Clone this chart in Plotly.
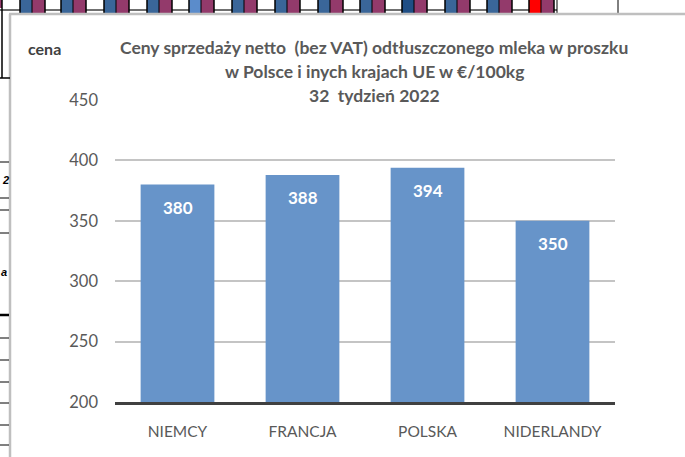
import plotly.graph_objects as go

# ---- data ----
categories = ["NIEMCY", "FRANCJA", "POLSKA", "NIDERLANDY"]
prices = [380, 388, 394, 350]
y_ticks = [200, 250, 300, 350, 400, 450]
title_lines = [
    "Ceny sprzedaży netto  (bez VAT) odtłuszczonego mleka w proszku",
    "w Polsce i inych krajach UE w €/100kg",
    "32  tydzień 2022",
]
y_label = "cena"

# ---- layout geometry (pixels) ----
W, H = 685, 457
L, R, T, B = 115, 615, 100, 402
FONT = "Lato"
GRAY = "#595959"


def px(x):
    return (x - L) / (R - L)


def py(y):
    return (B - y) / (B - T)


fig = go.Figure()
fig.add_trace(go.Bar(
    x=categories, y=prices,
    marker=dict(color="#6794C9", line=dict(width=0)),
    width=0.59, hoverinfo="x+y",
))

annotations = []
for c, v in zip(categories, prices):
    annotations.append(dict(
        x=c, y=v, xref="x", yref="y", text=f"<b>{v}</b>", showarrow=False,
        yanchor="middle", yshift=-23,
        font=dict(family=FONT, size=17, color="white"),
    ))

title_y = [47, 71, 95]
for t, yy in zip(title_lines, title_y):
    annotations.append(dict(
        x=px(374), y=py(yy), xref="paper", yref="paper", text=f"<b>{t}</b>",
        showarrow=False, xanchor="center", yanchor="middle",
        font=dict(family=FONT, size=17.5, color=GRAY),
    ))
annotations.append(dict(
    x=px(26), y=py(49), xref="paper", yref="paper", text=f"<b>{y_label}</b>",
    showarrow=False, xanchor="left", yanchor="middle",
    font=dict(family=FONT, size=16, color="#404040"),
))
# spreadsheet fragments on the left
for txt, xx, yy in [("2", 0, 180), ("a", -1, 272)]:
    annotations.append(dict(
        x=px(xx), y=py(yy), xref="paper", yref="paper", text=f"<b><i>{txt}</i></b>",
        showarrow=False, xanchor="left", yanchor="middle",
        font=dict(family="Liberation Sans", size=11, color="#000000"),
    ))

shapes = []


def rect(x0, y0, x1, y1, color, line_w=0, line_c=None):
    shapes.append(dict(
        type="rect", xref="paper", yref="paper",
        x0=px(x0), x1=px(x1), y0=py(y1), y1=py(y0),
        fillcolor=color, line=dict(width=line_w, color=line_c or color),
        layer="above",
    ))


def line(x0, y0, x1, y1, color, w=1):
    shapes.append(dict(
        type="line", xref="paper", yref="paper",
        x0=px(x0), x1=px(x1), y0=py(y0), y1=py(y1),
        line=dict(color=color, width=w), layer="above",
    ))


# top strip of spreadsheet cells
line(0, 10, 557, 10, "#404040", 1.5)
pair_starts = [20, 61, 104, 147, 189, 232, 275, 318, 360, 402, 445, 487, 529]
for i, s in enumerate(pair_starts):
    first = "#FF0000" if i == len(pair_starts) - 1 else ("#5B8CCB" if i == 4 else ("#1F4E85" if i == 9 else "#3A6699"))
    rect(s, 0, s + 12, 14, first)
    rect(s + 12, 0, s + 25, 14, "#933A6B")
    line(s, 0, s, 14, "#000000", 1.5)
    line(s + 12, 0, s + 12, 14, "#000000", 1)
    line(s + 25, 0, s + 25, 14, "#000000", 1.5)
line(557, 0, 557, 14, "#000000", 1)
line(618, 0, 618, 14, "#000000", 1)
rect(0, 0, 2, 8, "#933A6B")
# chart border
line(9, 14, 685, 14, "#BFBFBF", 2.5)
line(10, 14, 10, 457, "#BFBFBF", 2.5)
# left fragments
line(2, 0, 2, 78, "#000000", 1.5)
line(0, 78, 10, 78, "#000000", 1.5)
for yy in [162, 198, 210, 233, 338, 360, 382, 403, 425, 445]:
    line(0, yy, 9, yy, "#000000", 1)
line(0, 315, 9, 315, "#000000", 2.5)

fig.update_layout(
    width=W, height=H,
    margin=dict(l=L, r=W - R, t=T, b=H - B, pad=0),
    paper_bgcolor="white", plot_bgcolor="white",
    showlegend=False,
    bargap=0.41,
    annotations=annotations,
    shapes=shapes,
    font=dict(family=FONT, color=GRAY),
)
fig.update_xaxes(
    type="category", showgrid=False, zeroline=False,
    showline=True, linecolor="#404040", linewidth=2.5,
    ticks="", ticklabelstandoff=14,
    tickfont=dict(family=FONT, size=15.5, color=GRAY),
)
fig.update_yaxes(
    range=[200, 450], tickvals=y_ticks, showline=False, zeroline=False,
    showgrid=True, gridcolor="#C4C4C4", gridwidth=1.5,
    ticks="", ticklabelstandoff=16,
    tickfont=dict(family=FONT, size=16.5, color=GRAY),
)

fig.write_html(
    "out.html",
    config={"displayModeBar": False},
    post_script="document.body.style.margin='0px';document.body.style.overflow='hidden';",
)
